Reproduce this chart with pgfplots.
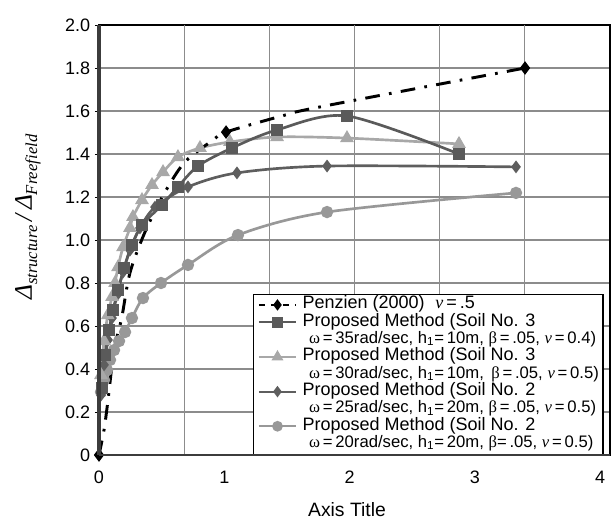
\documentclass[border=0pt]{standalone}
\usepackage{fontspec}
\setmainfont{Liberation Sans}
\newfontfamily\tms{Liberation Serif}
\usepackage{pgfplots}
\pgfplotsset{compat=1.18}

\definecolor{sqgray}{HTML}{5A5A5A}
\definecolor{trgray}{HTML}{A8A8A8}
\definecolor{dmgray}{HTML}{5E5E5E}
\definecolor{cigray}{HTML}{989898}
\definecolor{gridgray}{HTML}{8C8C8C}
\definecolor{spine}{HTML}{3C3C3C}

\newcommand{\gk}[1]{{\tms #1}}
\newcommand{\nuv}{{\tms\itshape ν}}
\newcommand{\lf}{\fontsize{13.5}{13}\selectfont}
\newcommand{\ls}{\fontsize{12.5}{13}\selectfont}

\pgfplotstableread{
x y
0.000 0.000
0.040 0.116
0.072 0.256
0.120 0.488
0.181 0.637
0.247 0.847
0.367 1.037
0.527 1.223
0.686 1.363
0.910 1.465
1.014 1.502
1.460 1.577
1.764 1.619
3.400 1.800
}\penzien

\pgfplotstableread{
x y
0.024 0.312
0.048 0.465
0.080 0.581
0.112 0.674
0.152 0.767
0.200 0.870
0.263 0.977
0.343 1.070
0.503 1.163
0.630 1.247
0.790 1.344
1.061 1.428
1.421 1.512
1.979 1.577
2.873 1.400
}\soilthreeA

\pgfplotstableread{
x y
0.016 0.372
0.040 0.530
0.070 0.650
0.104 0.735
0.128 0.800
0.152 0.874
0.192 0.967
0.247 1.056
0.271 1.107
0.343 1.186
0.423 1.256
0.511 1.316
0.630 1.386
0.806 1.428
1.045 1.456
1.421 1.479
1.979 1.474
2.873 1.447
}\soilthreeB

\pgfplotstableread{
x y
0.016 0.279
0.040 0.419
0.072 0.535
0.104 0.637
0.144 0.744
0.192 0.851
0.247 0.953
0.327 1.056
0.447 1.153
0.710 1.247
1.101 1.312
1.820 1.344
3.328 1.340
}\soiltwoA

\pgfplotstableread{
x y
0.016 0.293
0.040 0.349
0.064 0.395
0.088 0.442
0.120 0.488
0.160 0.530
0.208 0.572
0.263 0.637
0.351 0.730
0.495 0.800
0.710 0.884
1.109 1.023
1.820 1.130
3.328 1.219
}\soiltwoB

\begin{document}
\begin{tikzpicture}
\useasboundingbox (-74.25pt,-49.5pt) rectangle (384pt,341.25pt);
\begin{axis}[
  scale only axis,
  width=383.25pt, height=322.5pt,
  xmin=0, xmax=4.078, ymin=0, ymax=2,
  xtick={0,1,2,3,4},
  xticklabels={0,1,2,3,4},
  extra x ticks={0.6797,1.3594,2.0391,2.7188,3.3985},
  extra x tick labels={},
  extra x tick style={grid=major},
  ytick={0,0.2,0.4,0.6,0.8,1.0,1.2,1.4,1.6,1.8,2.0},
  yticklabels={0,0.2,0.4,0.6,0.8,1.0,1.2,1.4,1.6,1.8,2.0},
  ymajorgrids,
  grid style={gridgray, line width=0.9pt},
  xtick style={draw=none},
  ytick style={black, line width=0.6pt},
  tick align=outside,
  major tick length=3pt,
  /pgf/number format/assume math mode=true,
  tick label style={font=\fontsize{13.5}{14}\selectfont},
  xticklabel style={anchor=base, yshift=-18.5pt},
  yticklabel style={anchor=east, inner sep=0pt, xshift=-3.5pt},
  axis line style={black, line width=1.4pt},
  xlabel={\fontsize{14.5}{15}\selectfont Axis Title},
  xlabel style={at={(axis description cs:0.4853,-0.128)}, anchor=center},
  ylabel={\tms\itshape\fontsize{19}{20}\selectfont Δ\raisebox{-4pt}{\fontsize{12.5}{13}\selectfont structure}\,/\,Δ\raisebox{-4pt}{\fontsize{12.5}{13}\selectfont Freefield}},
  ylabel style={at={(axis description cs:-0.139,0.553)}, anchor=center},
  legend cell align=left,
  legend image code/.code={%
    \draw[mark repeat=2,mark phase=2,#1]
      plot coordinates {(0pt,0pt) (14pt,0pt) (28pt,0pt)};},
  legend style={
    at={(axis description cs:0.3014,0)}, anchor=south west,
    draw=black, line width=1.1pt, fill=white,
    inner xsep=3pt, inner ysep=1.5pt,
    row sep=0pt,
    nodes={inner sep=0pt, text height=9.4pt, text depth=3.6pt},
    /tikz/every odd column/.append style={column sep=4pt},
  },
]

% curves, lightest on the bottom, dash-dot reference curve on top
\addplot[cigray, line width=2pt, smooth, mark=*, mark size=3.6pt,
  forget plot] table {\soiltwoB};
\addplot[dmgray, line width=2pt, smooth, mark=diamond*, mark size=3.2pt,
  forget plot] table {\soiltwoA};
\addplot[trgray, line width=2pt, smooth, mark=triangle*, mark size=4pt,
  forget plot] table {\soilthreeB};
\addplot[sqgray, line width=2pt, smooth, mark=square*, mark size=3.5pt,
  forget plot] table {\soilthreeA};
\addplot[black, line width=2.2pt, smooth,
  dash pattern=on 11pt off 7pt on 2pt off 7pt,
  mark=diamond*, mark size=3.3pt, mark indices={1,11,14},
  mark options={solid}, forget plot] table {\penzien};

% legend rows
\addlegendimage{black, line width=1.6pt, dash pattern=on 5pt off 4pt,
  mark=diamond*, mark size=3pt, mark options={solid}}
\addlegendentry{\lf Penzien (2000)\hspace{0.6em}\nuv\,=\,.5}
\addlegendimage{sqgray, line width=1.6pt, mark=square*, mark size=3.3pt}
\addlegendentry{\lf Proposed Method (Soil No. 3}
\addlegendimage{empty legend}
\addlegendentry{\ls\hspace{5pt}\gk{ω}\,=\,35rad/sec, h\textsubscript{1}=\,10m, \gk{β}\,=\,.05, \nuv\,=\,0.4)\hspace{11pt}}
\addlegendimage{trgray, line width=1.6pt, mark=triangle*, mark size=3.6pt}
\addlegendentry{\lf Proposed Method (Soil No. 3}
\addlegendimage{empty legend}
\addlegendentry{\ls\hspace{5pt}\gk{ω}\,=\,30rad/sec, h\textsubscript{1}=\,10m,\, \gk{β}\,=\,.05, \nuv\,=\,0.5)}
\addlegendimage{dmgray, line width=1.6pt, mark=diamond*, mark size=3pt}
\addlegendentry{\lf Proposed Method (Soil No. 2}
\addlegendimage{empty legend}
\addlegendentry{\ls\hspace{5pt}\gk{ω}\,=\,25rad/sec, h\textsubscript{1}=\,20m, \gk{β}\,=\,.05, \nuv\,=\,0.5)}
\addlegendimage{cigray, line width=1.6pt, mark=*, mark size=3.2pt}
\addlegendentry{\lf Proposed Method (Soil No. 2}
\addlegendimage{empty legend}
\addlegendentry{\ls\hspace{5pt}\gk{ω}\,=\,20rad/sec, h\textsubscript{1}=\,20m, \gk{β}=\,.05, \nuv\,=\,0.5)}
\end{axis}
% heavier left and bottom spines
\draw[spine, line width=2.6pt] (current axis.south west) -- (current axis.north west);
\draw[spine, line width=2pt] (current axis.south west) -- (current axis.south east);
\end{tikzpicture}
\end{document}
